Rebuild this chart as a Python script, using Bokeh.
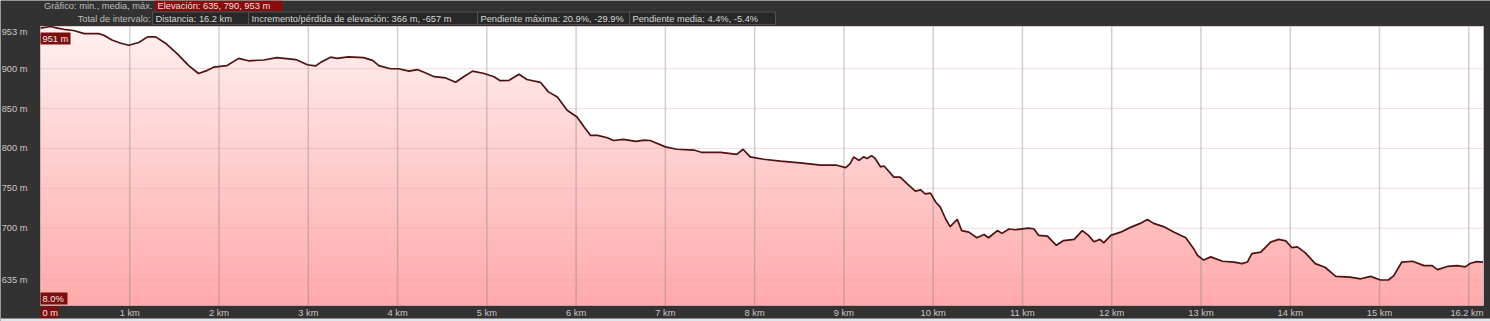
import numpy as np
from bokeh.plotting import figure
from bokeh.models import Range1d
from bokeh.embed import file_html
from bokeh.resources import INLINE
from bokeh.core.properties import value

# ---------------- data ----------------
dist_km = [0.00, 0.11, 0.19, 0.26, 0.37, 0.49, 0.65, 0.71, 0.80, 0.90,
           0.99, 1.10, 1.20, 1.29, 1.40, 1.53, 1.66, 1.77, 1.87, 1.94,
           2.09, 2.22, 2.33, 2.50, 2.65, 2.86, 2.99, 3.08, 3.14, 3.25,
           3.32, 3.45, 3.62, 3.72, 3.79, 3.92, 4.01, 4.13, 4.22, 4.29,
           4.41, 4.54, 4.65, 4.74, 4.84, 4.97, 5.08, 5.15, 5.25, 5.36,
           5.45, 5.60, 5.69, 5.79, 5.90, 6.01, 6.09, 6.16, 6.24, 6.35,
           6.42, 6.53, 6.67, 6.76, 6.83, 7.00, 7.13, 7.32, 7.41, 7.62,
           7.80, 7.87, 7.95, 8.10, 8.29, 8.51, 8.74, 8.92, 9.02, 9.07,
           9.11, 9.17, 9.22, 9.26, 9.31, 9.35, 9.41, 9.45, 9.56, 9.63,
           9.71, 9.80, 9.86, 9.91, 9.97, 10.03, 10.08, 10.14, 10.19, 10.27,
           10.32, 10.40, 10.49, 10.57, 10.62, 10.72, 10.77, 10.85, 10.92, 11.07,
           11.13, 11.18, 11.28, 11.38, 11.46, 11.58, 11.67, 11.74, 11.80, 11.87,
           11.91, 11.99, 12.10, 12.21, 12.32, 12.40, 12.47, 12.58, 12.70, 12.83,
           12.92, 12.96, 13.03, 13.11, 13.24, 13.37, 13.46, 13.52, 13.57, 13.67,
           13.78, 13.87, 13.95, 14.02, 14.08, 14.17, 14.28, 14.39, 14.51, 14.67,
           14.79, 14.90, 15.01, 15.10, 15.16, 15.25, 15.37, 15.50, 15.59, 15.65,
           15.76, 15.87, 15.96, 16.02, 16.09, 16.16]

elev_m = [951, 953, 951, 949.5, 948, 944, 944, 942, 936, 932,
          929.5, 933, 940, 940, 932, 919, 904, 894, 898, 902,
          904, 913, 910, 911, 914, 911.5, 905, 903.5, 908, 914.5,
          913, 915, 914, 910.5, 904, 900, 900, 897, 899, 896,
          890, 888.5, 883, 890, 897, 894, 890, 885, 885.5, 893,
          886.5, 883, 871, 864.5, 848, 839.5, 827, 816.5, 816.5, 813.5,
          810, 811.5, 809, 810.5, 810, 802, 799, 798, 795, 795,
          792.5, 799, 789.5, 786.5, 784, 782, 779, 779, 776, 781,
          789.5, 785, 789.5, 787.5, 791, 787.5, 777, 778, 764, 764,
          755.5, 746.5, 748, 743, 744, 732.5, 726.5, 711.5, 702, 711,
          697, 695, 688, 692, 688, 697, 693.5, 699, 698, 700,
          699, 691, 690, 678.5, 684.5, 686, 697, 691, 683, 686,
          681.5, 691, 695, 701, 706, 711, 706, 702, 695, 688,
          674, 666, 660, 664, 658.5, 657.5, 655.5, 657.5, 668, 670,
          682.5, 686, 684, 675.5, 676.5, 669, 655.5, 651, 639.5, 638.5,
          636.5, 639.5, 635, 635, 640.5, 657.5, 658.5, 653, 653, 648,
          652, 653, 651.5, 656, 658, 657.5]

x_tick_km = list(range(1, 16))
x_grid_km = list(range(1, 17))
y_tick_m = [635, 700, 750, 800, 850, 900]
y_grid_m = [635, 700, 750, 800, 850, 900, 953]
elev_max = 953
total_label = "16.2 km"

hdr_row1_label = "Gráfico: min., media, máx."
hdr_row1_box = "Elevación: 635, 790, 953 m"
hdr_row2_label = "Total de intervalo:"
hdr_row2_boxes = ["Distancia: 16.2 km",
                  "Incremento/pérdida de elevación: 366 m, -657 m",
                  "Pendiente máxima: 20.9%, -29.9%",
                  "Pendiente media: 4.4%, -5.4%"]
cursor_elev = "951 m"
cursor_grade = "8.0%"
cursor_dist = "0 m"

# ---------------- style / layout ----------------
W, H = 1490, 321
BG = "#323232"
RED = "#8a0d0d"
CUR = "#7a0f0f"
FONT = value("Liberation Sans")
FS = "9.3px"
LBL = "#cbc5c5"
X_END = 16.165          # km at right edge of the chart area
Y_START = 603.0         # m at bottom edge of the chart area
Y_TOP = elev_max        # m at top edge
FR_L, FR_R, FR_T, FR_B = 40, 1483, 26, 305   # chart area in page pixels

kpp = X_END / (FR_R - FR_L)
mpp = (Y_TOP - Y_START) / (FR_B - FR_T)

p = figure(width=W, height=H, x_range=Range1d(0, W), y_range=Range1d(H, 0),
           x_axis_type=None, y_axis_type=None, output_backend="svg",
           toolbar_location=None, min_border=0)
p.extra_x_ranges = {"km": Range1d(-FR_L * kpp, (W - FR_L) * kpp)}
p.extra_y_ranges = {"m": Range1d(Y_START - (H - FR_B) * mpp, Y_TOP + FR_T * mpp)}
p.grid.visible = False
p.outline_line_color = None
p.background_fill_color = BG
p.border_fill_color = BG

KM = dict(x_range_name="km", y_range_name="m")

# chart area background
p.quad(left=[0], right=[X_END], bottom=[Y_START], top=[Y_TOP], fill_color="white",
       line_color=None, **KM)

# vertical pink gradient, then white above the profile
N = 280
img = np.zeros((N, 1), dtype=np.uint32)
v = img.view(dtype=np.uint8).reshape((N, 1, 4))
t = np.linspace(0.0, 1.0, N)
v[:, 0, 0] = 255
v[:, 0, 1] = (170 + 70 * t).astype(np.uint8)
v[:, 0, 2] = (170 + 70 * t).astype(np.uint8)
v[:, 0, 3] = 255
p.image_rgba(image=[img], x=0, y=Y_START, dw=X_END, dh=Y_TOP - Y_START, **KM)
p.varea(x=dist_km, y1=elev_m, y2=[Y_TOP] * len(elev_m), fill_color="white", **KM)

# grid
p.segment(x0=x_grid_km, x1=x_grid_km, y0=[Y_START] * len(x_grid_km), y1=[Y_TOP] * len(x_grid_km),
          line_color="#777777", line_alpha=0.35, line_width=1.5, **KM)
p.segment(x0=[0] * len(y_grid_m), x1=[X_END] * len(y_grid_m), y0=y_grid_m, y1=y_grid_m,
          line_color="#e09a9a", line_alpha=0.35, line_width=1, **KM)
p.segment(x0=[X_END], x1=[X_END], y0=[Y_START], y1=[Y_TOP], line_color="#bbbbbb",
          line_width=1, **KM)

# profile
p.line(dist_km, elev_m, line_color="#4e1212", line_width=1.7, **KM)

# axis labels
p.text(x=x_tick_km, y=[307] * len(x_tick_km), text=[f"{k} km" for k in x_tick_km],
       text_align="center", text_baseline="top", text_font=FONT, text_font_size=FS,
       text_color=LBL, x_range_name="km")
p.text(x=[X_END], y=[307], text=[total_label], text_align="right", text_baseline="top",
       text_font=FONT, text_font_size=FS, text_color=LBL, x_range_name="km")
p.text(x=[27] * len(y_tick_m), y=y_tick_m, text=[f"{k} m" for k in y_tick_m],
       text_align="right", text_baseline="middle", text_font=FONT, text_font_size=FS,
       text_color=LBL, y_range_name="m")
p.text(x=[27], y=[31], text=[f"{elev_max} m"], text_align="right", text_baseline="middle",
       text_font=FONT, text_font_size=FS, text_color=LBL)

# cursor boxes
p.quad(left=[40, 40, 40], right=[70, 67, 58], top=[32, 292, 306], bottom=[44, 304, 318],
       fill_color=CUR, line_color=None)
p.text(x=[42, 42, 42], y=[38.5, 298.5, 312.5], text=[cursor_elev, cursor_grade, cursor_dist],
       text_align="left", text_baseline="middle", text_font=FONT, text_font_size=FS,
       text_color="#f4e4e4")

# header
p.quad(left=[154], right=[282], top=[0], bottom=[10.5], fill_color=RED, line_color=None)
p.text(x=[152], y=[5.5], text=[hdr_row1_label], text_align="right", text_baseline="middle",
       text_font=FONT, text_font_size=FS, text_color="#bcbcbc")
p.text(x=[157], y=[5.5], text=[hdr_row1_box], text_align="left", text_baseline="middle",
       text_font=FONT, text_font_size=FS, text_color="#f0dede")
lefts = [152, 248, 477, 629]
rights = [248, 477, 629, 775]
p.quad(left=lefts, right=rights, top=[11.5] * 4, bottom=[24] * 4,
       fill_color="#282828", line_color="#525252", line_width=1)
p.text(x=[150], y=[18], text=[hdr_row2_label], text_align="right", text_baseline="middle",
       text_font=FONT, text_font_size=FS, text_color="#bcbcbc")
p.text(x=[l + 3 for l in lefts], y=[18] * 4, text=hdr_row2_boxes, text_align="left",
       text_baseline="middle", text_font=FONT, text_font_size=FS, text_color="#d6d6d6")

# bottom strip of the window
p.quad(left=[0], right=[W], top=[318], bottom=[H], fill_color="#dfe3ea", line_color=None)

open("out.html", "w").write(file_html(p, INLINE))
